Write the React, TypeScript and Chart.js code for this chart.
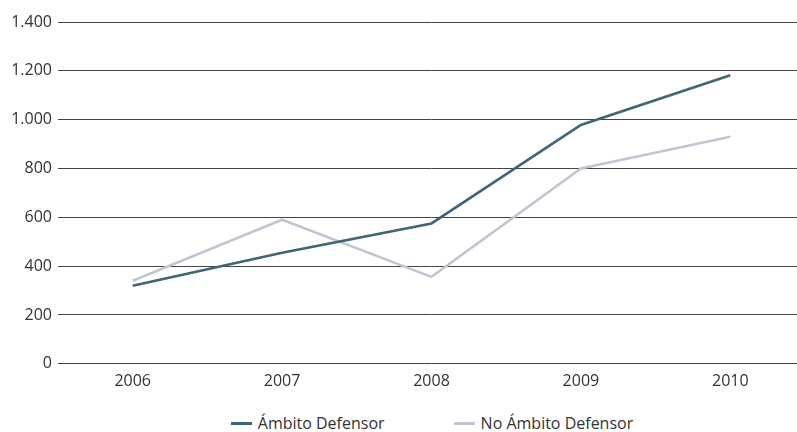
import React, { useEffect, useRef } from "react";
import { Chart, registerables } from "chart.js";

Chart.register(...registerables);

const categories = ["2006", "2007", "2008", "2009", "2010"];
const ambitoValues = [320, 455, 575, 978, 1182];
const noAmbitoValues = [340, 590, 356, 800, 930];
const yTickValues = [0, 200, 400, 600, 800, 1000, 1200, 1400];
const yTickLabels = ["0", "200", "400", "600", "800", "1.000", "1.200", "1.400"];
const seriesNames = ["Ámbito Defensor", "No Ámbito Defensor"];
const seriesColors = ["#3f6577", "#bfc7d3"];

const FONT = "'Open Sans', 'Noto Sans', sans-serif";
const TEXT = "#333333";

export default function App() {
  const ref = useRef<HTMLCanvasElement | null>(null);

  useEffect(() => {
    if (!ref.current) return;
    const chart = new Chart(ref.current, {
      type: "line",
      data: {
        labels: categories,
        datasets: [
          {
            label: seriesNames[0],
            data: ambitoValues,
            borderColor: seriesColors[0],
            backgroundColor: seriesColors[0],
            borderWidth: 2.6,
            pointRadius: 0,
            tension: 0,
          },
          {
            label: seriesNames[1],
            data: noAmbitoValues,
            borderColor: seriesColors[1],
            backgroundColor: seriesColors[1],
            borderWidth: 2.6,
            pointRadius: 0,
            tension: 0,
          },
        ],
      },
      options: {
        animation: false,
        responsive: true,
        maintainAspectRatio: false,
        layout: { padding: { top: 22, left: 0, right: 0, bottom: 0 } },
        plugins: {
          legend: { display: false },
          tooltip: { enabled: false },
        },
        scales: {
          x: {
            offset: true,
            grid: { display: false, drawTicks: false },
            border: { display: false },
            ticks: {
              color: TEXT,
              padding: 8,
              font: { family: FONT, size: 16 },
              maxRotation: 0,
            },
          },
          y: {
            min: 0,
            max: 1400,
            afterFit: (scale: any) => {
              scale.width = 58;
            },
            afterBuildTicks: (scale: any) => {
              scale.ticks = yTickValues.map((v) => ({ value: v }));
            },
            grid: { color: "#444", lineWidth: 1, drawTicks: false },
            border: { display: false },
            ticks: {
              color: TEXT,
              padding: 6,
              font: { family: FONT, size: 16 },
              callback: (v: any) => {
                const i = yTickValues.indexOf(Number(v));
                return i >= 0 ? yTickLabels[i] : "";
              },
            },
          },
        },
      },
    });
    return () => chart.destroy();
  }, []);

  return (
    <div
      style={{
        position: "fixed",
        left: 0,
        top: 0,
        width: 797,
        height: 432,
        overflow: "hidden",
        background: "#fff",
      }}
    >
      <div style={{ position: "absolute", left: 0, top: 0, width: 805, height: 399 }}>
        <canvas ref={ref} />
      </div>
      <div
        style={{
          position: "absolute",
          left: 0,
          top: 412,
          width: 864,
          display: "flex",
          justifyContent: "center",
          gap: 69,
          fontFamily: FONT,
          fontSize: 16,
          color: TEXT,
          lineHeight: "22px",
          whiteSpace: "nowrap",
        }}
      >
        {seriesNames.map((name, i) => (
          <div key={name} style={{ display: "flex", alignItems: "center" }}>
            <span
              style={{
                display: "inline-block",
                width: 21,
                height: 3,
                background: seriesColors[i],
                marginRight: 6,
              }}
            />
            <span>{name}</span>
          </div>
        ))}
      </div>
    </div>
  );
}
